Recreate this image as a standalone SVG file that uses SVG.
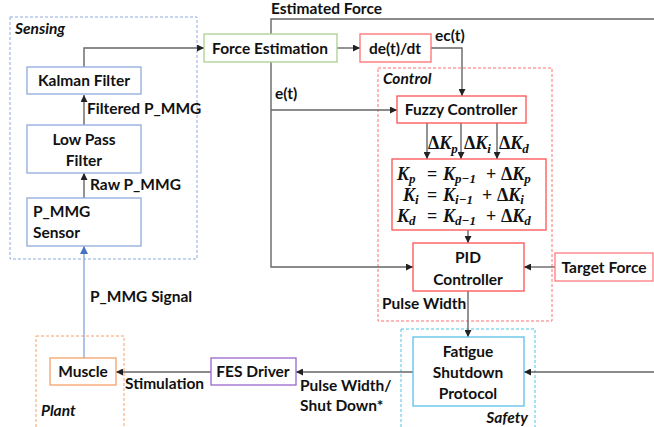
<svg xmlns="http://www.w3.org/2000/svg" width="654" height="427" viewBox="0 0 654 427">
<defs>
<marker id="ah" viewBox="0 0 8 8" refX="8" refY="4" markerWidth="5" markerHeight="5" orient="auto"><path d="M0,0 L8,4 L0,8 z" fill="#222"/></marker>
<marker id="ahb" viewBox="0 0 8 8" refX="8" refY="4" markerWidth="6" markerHeight="6" orient="auto"><path d="M0,0 L8,4 L0,8 z" fill="#4472c4"/></marker>
<style>
text{font-family:Lato,"Liberation Sans",sans-serif;font-weight:bold;font-size:15.5px;fill:#111}
.it{font-style:italic}
.mid{text-anchor:middle}
.box{fill:#fff;stroke-width:1.3}
.grp{fill:none;stroke-width:1;stroke-dasharray:3,2}
.ln{fill:none;stroke:#666;stroke-width:1.4}
.eq{font-family:"Liberation Serif","DejaVu Serif",serif;font-style:italic;font-weight:bold;font-size:18px}
.up{font-style:normal}
.sb{font-size:13px}
</style>
</defs>
<rect width="654" height="427" fill="#fff"/>

<!-- groups -->
<g id="sensing-group"><rect x="10" y="17" width="187" height="242" class="grp" stroke="#8faadc"/><text x="15" y="34" class="it">Sensing</text></g>
<g id="control-group"><rect x="378" y="68" width="174" height="253" class="grp" stroke="#ff6f6f"/><text x="383" y="84" class="it">Control</text></g>
<g id="safety-group"><rect x="401" y="329" width="134" height="110" class="grp" stroke="#4fc3e8"/><text x="528" y="423" class="it" text-anchor="end">Safety</text></g>
<g id="plant-group"><rect x="36" y="336" width="88" height="110" class="grp" stroke="#f4a26a"/><text x="41" y="416" class="it">Plant</text></g>

<!-- connectors -->
<g id="connectors">
<path class="ln" d="M84,67 V48 H204" marker-end="url(#ah)"/>
<path class="ln" d="M84,125 V95" marker-end="url(#ah)"/>
<path class="ln" d="M84,198 V173" marker-end="url(#ah)"/>
<path d="M84,358 V246" fill="none" stroke="#8faadc" stroke-width="1.4" marker-end="url(#ahb)"/>
<path class="ln" d="M337,48 H360" marker-end="url(#ah)"/>
<path class="ln" d="M271,34 V19 H654"/>
<path class="ln" d="M271,62 V267 H413" marker-end="url(#ah)"/>
<path class="ln" d="M271,110 H397" marker-end="url(#ah)"/>
<path class="ln" d="M431,48 H462 V96" marker-end="url(#ah)"/>
<path class="ln" d="M427,123 V159" marker-end="url(#ah)"/>
<path class="ln" d="M461,123 V159" marker-end="url(#ah)"/>
<path class="ln" d="M497,123 V159" marker-end="url(#ah)"/>
<path class="ln" d="M468,230 V243" marker-end="url(#ah)"/>
<path class="ln" d="M555,267 H524" marker-end="url(#ah)"/>
<path class="ln" d="M468,291 V337" marker-end="url(#ah)"/>
<path class="ln" d="M654,372 H524" marker-end="url(#ah)"/>
<path class="ln" d="M413,372 H296" marker-end="url(#ah)"/>
<path class="ln" d="M211,372 H116" marker-end="url(#ah)"/>
</g>

<!-- connector labels -->
<g id="labels">
<text x="87" y="114">Filtered P_MMG</text>
<text x="90" y="190">Raw P_MMG</text>
<text x="90" y="302">P_MMG Signal</text>
<text x="271" y="14">Estimated Force</text>
<text x="435" y="41">ec(t)</text>
<text x="275" y="99">e(t)</text>
<text x="382" y="309">Pulse Width</text>
<text x="300" y="391">Pulse Width/</text>
<text x="300" y="411">Shut Down*</text>
<text x="125" y="389">Stimulation</text>
<text x="428" y="149" class="eq"><tspan class="up">Δ</tspan>K<tspan class="sb" dy="4">p</tspan></text>
<text x="464" y="149" class="eq"><tspan class="up">Δ</tspan>K<tspan class="sb" dy="4">i</tspan></text>
<text x="499" y="149" class="eq"><tspan class="up">Δ</tspan>K<tspan class="sb" dy="4">d</tspan></text>
</g>

<!-- nodes -->
<g id="kalman"><rect x="27" y="67" width="114" height="27" class="box" stroke="#8faadc"/><text x="84" y="86" class="mid">Kalman Filter</text></g>
<g id="lowpass"><rect x="27" y="125" width="114" height="48" class="box" stroke="#8faadc"/><text x="84" y="145" class="mid">Low Pass</text><text x="84" y="166" class="mid">Filter</text></g>
<g id="sensor"><rect x="27" y="198" width="114" height="48" class="box" stroke="#8faadc"/><text x="33" y="217">P_MMG</text><text x="33" y="238">Sensor</text></g>
<g id="force-est"><rect x="204" y="34" width="133" height="28" class="box" stroke="#a9d18e"/><text x="270" y="54" class="mid">Force Estimation</text></g>
<g id="dedt"><rect x="360" y="34" width="71" height="28" class="box" stroke="#ff6f6f"/><text x="395" y="54" class="mid">de(t)/dt</text></g>
<g id="fuzzy"><rect x="397" y="96" width="129" height="27" class="box" stroke="#ff5050"/><text x="461" y="115" class="mid">Fuzzy Controller</text></g>
<g id="equations"><rect x="392" y="159" width="154" height="71" class="box" stroke="#ff5050"/>
<text y="180" class="eq"><tspan x="397">K</tspan><tspan class="sb" dy="3">p</tspan><tspan x="427" dy="-3" class="up">=</tspan><tspan x="443">K</tspan><tspan class="sb" dy="3">p−1</tspan><tspan x="486" dy="-3" class="up">+</tspan><tspan x="501" class="up">Δ</tspan><tspan>K</tspan><tspan class="sb" dy="3">p</tspan></text>
<text y="201" class="eq"><tspan x="403">K</tspan><tspan class="sb" dy="3">i</tspan><tspan x="427" dy="-3" class="up">=</tspan><tspan x="443">K</tspan><tspan class="sb" dy="3">i−1</tspan><tspan x="482" dy="-3" class="up">+</tspan><tspan x="497" class="up">Δ</tspan><tspan>K</tspan><tspan class="sb" dy="3">i</tspan></text>
<text y="222" class="eq"><tspan x="397">K</tspan><tspan class="sb" dy="3">d</tspan><tspan x="427" dy="-3" class="up">=</tspan><tspan x="443">K</tspan><tspan class="sb" dy="3">d−1</tspan><tspan x="486" dy="-3" class="up">+</tspan><tspan x="501" class="up">Δ</tspan><tspan>K</tspan><tspan class="sb" dy="3">d</tspan></text>
</g>
<g id="pid"><rect x="413" y="243" width="111" height="48" class="box" stroke="#ff5050"/><text x="468" y="263" class="mid">PID</text><text x="468" y="285" class="mid">Controller</text></g>
<g id="target"><rect x="555" y="253" width="98" height="28" class="box" stroke="#ff7c80"/><text x="604" y="273" class="mid">Target Force</text></g>
<g id="fatigue"><rect x="413" y="337" width="111" height="69" class="box" stroke="#5bc0eb"/><text x="468" y="357" class="mid">Fatigue</text><text x="468" y="378" class="mid">Shutdown</text><text x="468" y="399" class="mid">Protocol</text></g>
<g id="fes"><rect x="211" y="358" width="85" height="27" class="box" stroke="#9966cc"/><text x="253" y="377" class="mid">FES Driver</text></g>
<g id="muscle"><rect x="50" y="358" width="66" height="27" class="box" stroke="#f4a26a"/><text x="83" y="377" class="mid">Muscle</text></g>
</svg>
